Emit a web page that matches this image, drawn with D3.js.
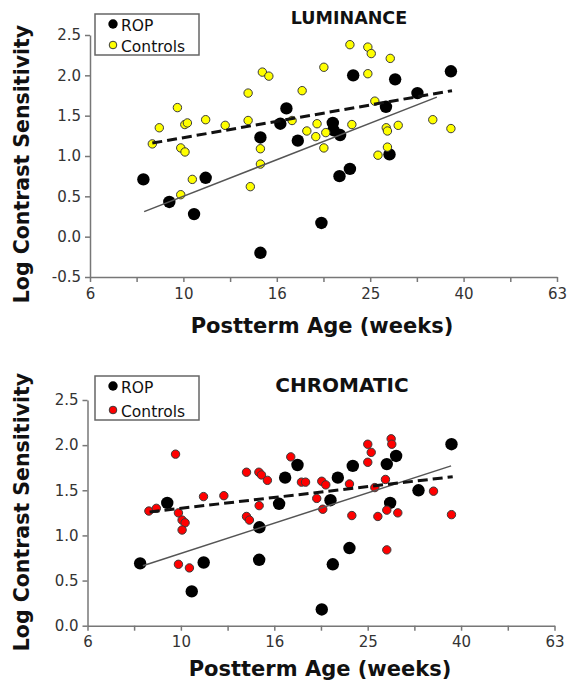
<!DOCTYPE html>
<html>
<head>
<meta charset="utf-8">
<script src="https://cdn.jsdelivr.net/npm/d3@7"></script>
<style>
    body { margin: 0; background: #fff; }
    svg { display: block; font-family: "DejaVu Sans", Verdana, sans-serif; }
</style>
</head>
<body>
<div id="chart"></div>
<script>
// x axis: postterm age in weeks, log spaced (10^0.8 ... 10^1.8)
const xTickValues = [6.31, 7.94, 10, 12.59, 15.85, 19.95, 25.12, 31.62, 39.81, 50.12, 63.1]
const xTickLabels = ["6", "", "10", "", "16", "", "25", "", "40", "", "63"]
const lumYTicks = [-0.5, 0, 0.5, 1, 1.5, 2, 2.5]
const chrYTicks = [0, 0.5, 1, 1.5, 2, 2.5]
const seriesNames = ["ROP", "Controls"]

// LUMINANCE: [age (weeks), log contrast sensitivity]
const lumRop = [
    [8.21, 0.71], [9.33, 0.43], [10.54, 0.28], [11.16, 0.73], [14.62, -0.20], [14.62, 1.23],
    [16.62, 1.59], [16.13, 1.40], [17.58, 1.19], [19.75, 0.17], [20.89, 1.41], [20.96, 1.32],
    [21.66, 1.26], [21.59, 0.75], [22.73, 0.84], [23.1, 2.00], [27.15, 1.61], [27.63, 1.02],
    [28.41, 1.95], [31.71, 1.78], [37.4, 2.05]
]
const lumCtrl = [
    [8.58, 1.15], [8.88, 1.35], [9.71, 1.60], [9.87, 1.10], [10.08, 1.05], [10.07, 1.39],
    [10.2, 1.41], [11.16, 1.45], [12.29, 1.38], [13.76, 1.78], [13.76, 1.44], [14.76, 2.04],
    [15.24, 1.99], [14.62, 1.09], [14.62, 0.90], [17.96, 1.81], [17.09, 1.44], [18.38, 1.31],
    [19.33, 1.40], [19.21, 1.24], [19.99, 2.10], [20.18, 1.29], [19.99, 1.10], [9.87, 0.52],
    [10.45, 0.71], [13.91, 0.62], [22.73, 2.38], [24.83, 2.35], [25.25, 2.27], [27.73, 2.21],
    [24.83, 2.02], [25.7, 1.68], [22.95, 1.39], [27.19, 1.35], [27.35, 1.31], [28.84, 1.38],
    [27.35, 1.11], [26.1, 1.01], [34.2, 1.45], [37.4, 1.34]
]
// regression lines, end points [age, value]
const lumRopFit = [[8.24, 0.31], [34.9, 1.73]]
const lumCtrlFit = [[8.58, 1.16], [37.6, 1.81]]

// CHROMATIC
const chrRop = [
    [8.18, 0.69], [9.35, 1.36], [10.55, 0.38], [11.19, 0.70], [14.71, 0.73], [14.73, 1.09],
    [16.23, 1.35], [16.72, 1.64], [17.77, 1.78], [20.03, 0.18], [20.91, 1.39], [21.15, 0.68],
    [21.68, 1.64], [22.96, 0.86], [23.34, 1.77], [27.6, 1.79], [28.06, 1.36], [28.9, 1.88],
    [32.27, 1.50], [37.97, 2.01]
]
const chrCtrl = [
    [8.54, 1.27], [8.86, 1.30], [9.74, 1.90], [9.88, 1.25], [10.06, 1.17], [10.21, 1.14],
    [10.06, 1.06], [9.88, 0.68], [10.43, 0.64], [11.18, 1.43], [12.36, 1.44], [13.82, 1.70],
    [14.69, 1.70], [14.88, 1.67], [15.32, 1.61], [13.82, 1.21], [14.02, 1.17], [14.71, 1.33],
    [17.19, 1.87], [18.12, 1.59], [18.49, 1.59], [20.03, 1.60], [20.43, 1.56], [19.54, 1.41],
    [20.13, 1.29], [22.96, 1.57], [25.13, 2.01], [25.56, 1.92], [25.13, 1.81], [28.2, 2.07],
    [28.29, 2.01], [27.42, 1.62], [26.02, 1.53], [23.23, 1.22], [26.41, 1.21], [27.6, 1.28],
    [29.14, 1.25], [34.75, 1.49], [37.97, 1.23], [27.6, 0.84]
]
const chrRopFit = [[8.29, 0.665], [37.9, 1.77]]
const chrCtrlFit = [[8.57, 1.26], [38.2, 1.65]]

let width = 581, height = 684
let svg = d3.select("#chart")
    .append("svg")
    .attr("width", width)
    .attr("height", height)

function drawPanel(o) {
    let g = svg.append("g")
    let x = d3.scaleLog().domain([6.31, 63.1]).range([o.x0, o.x1])
    let y = d3.scaleLinear().domain(o.yDomain).range([o.yBottom, o.yTop])

    //axes
    let xAxis = g.append("g")
        .attr("transform", `translate(0,${o.yBottom})`)
        .call(d3.axisBottom(x)
            .tickValues(xTickValues)
            .tickFormat((d, i) => xTickLabels[i])
            .tickSize(5)
            .tickSizeOuter(0)
            .tickPadding(6))
    let yAxis = g.append("g")
        .attr("transform", `translate(${o.x0},0)`)
        .call(d3.axisLeft(y)
            .tickValues(o.yTicks)
            .tickFormat(d => d.toFixed(1))
            .tickSize(5)
            .tickSizeOuter(0)
            .tickPadding(4))
    ;[xAxis, yAxis].forEach(a => {
        a.select(".domain").attr("stroke", "#777").attr("stroke-width", 1.5)
        a.selectAll(".tick line").attr("stroke", "#777").attr("stroke-width", 1.5)
        a.selectAll(".tick text")
            .attr("fill", "#333")
            .attr("font-size", 15)
            .attr("font-family", "DejaVu Sans, Verdana, sans-serif")
    })

    //points
    g.append("g").selectAll("circle")
        .data(o.rop)
        .enter()
        .append("circle")
        .attr("cx", d => x(d[0]))
        .attr("cy", d => y(d[1]))
        .attr("r", 6.2)
        .attr("fill", "#000")
    g.append("g").selectAll("circle")
        .data(o.ctrl)
        .enter()
        .append("circle")
        .attr("cx", d => x(d[0]))
        .attr("cy", d => y(d[1]))
        .attr("r", 4.2)
        .attr("fill", o.ctrlColor)
        .attr("stroke", "#3a3a3a")
        .attr("stroke-width", 1)

    //fit lines
    let line = d3.line().x(d => x(d[0])).y(d => y(d[1]))
    g.append("path")
        .attr("d", line(o.ropFit))
        .attr("fill", "none")
        .attr("stroke", "#555")
        .attr("stroke-width", 1.5)
    g.append("path")
        .attr("d", line(o.ctrlFit))
        .attr("fill", "none")
        .attr("stroke", "#111")
        .attr("stroke-width", 3)
        .attr("stroke-dasharray", "10 5")

    //titles
    g.append("text")
        .attr("x", o.titleX)
        .attr("y", o.titleY)
        .attr("text-anchor", "middle")
        .attr("font-size", o.titleSize)
        .attr("font-weight", "bold")
        .attr("fill", "#111")
        .text(o.title)
    g.append("text")
        .attr("x", o.xTitleX)
        .attr("y", o.xTitleY)
        .attr("text-anchor", "middle")
        .attr("font-size", 21)
        .attr("font-weight", "bold")
        .attr("fill", "#111")
        .text("Postterm Age (weeks)")
    g.append("text")
        .attr("transform", `translate(29,${o.yLabelY}) rotate(-90)`)
        .attr("text-anchor", "middle")
        .attr("font-size", 20.5)
        .attr("font-weight", "bold")
        .attr("fill", "#111")
        .text("Log Contrast Sensitivity")

    //legend
    let lg = g.append("g").attr("transform", `translate(95,${o.legendY})`)
    lg.append("rect")
        .attr("x", 0).attr("y", 0)
        .attr("width", 104).attr("height", o.legendH)
        .attr("fill", "#fff")
        .attr("stroke", "#666")
        .attr("stroke-width", 1.5)
    lg.append("circle").attr("cx", 18).attr("cy", 10).attr("r", 4.7).attr("fill", "#000")
    lg.append("circle").attr("cx", 18).attr("cy", o.legendH - 10).attr("r", 3.8)
        .attr("fill", o.ctrlColor).attr("stroke", "#3a3a3a").attr("stroke-width", 1)
    lg.selectAll("text")
        .data(seriesNames)
        .enter()
        .append("text")
        .attr("x", 26)
        .attr("y", (d, i) => i == 0 ? 17 : o.legendH - 3)
        .attr("font-size", 15.5)
        .attr("fill", "#111")
        .text(d => d)
}

drawPanel({
    x0: 90, x1: 557, yTop: 35, yBottom: 277,
    yDomain: [-0.5, 2.5], yTicks: lumYTicks,
    rop: lumRop, ctrl: lumCtrl, ropFit: lumRopFit, ctrlFit: lumCtrlFit,
    ctrlColor: "#ffff00",
    title: "LUMINANCE", titleX: 349, titleY: 24, titleSize: 17.5,
    xTitleX: 322, xTitleY: 333, yLabelY: 164,
    legendY: 14, legendH: 41
})
drawPanel({
    x0: 87.5, x1: 554.5, yTop: 400, yBottom: 625.7,
    yDomain: [0, 2.5], yTicks: chrYTicks,
    rop: chrRop, ctrl: chrCtrl, ropFit: chrRopFit, ctrlFit: chrCtrlFit,
    ctrlColor: "#ff0000",
    title: "CHROMATIC", titleX: 342, titleY: 392, titleSize: 20,
    xTitleX: 320, xTitleY: 676, yLabelY: 512,
    legendY: 376, legendH: 44
})
</script>
</body>
</html>
